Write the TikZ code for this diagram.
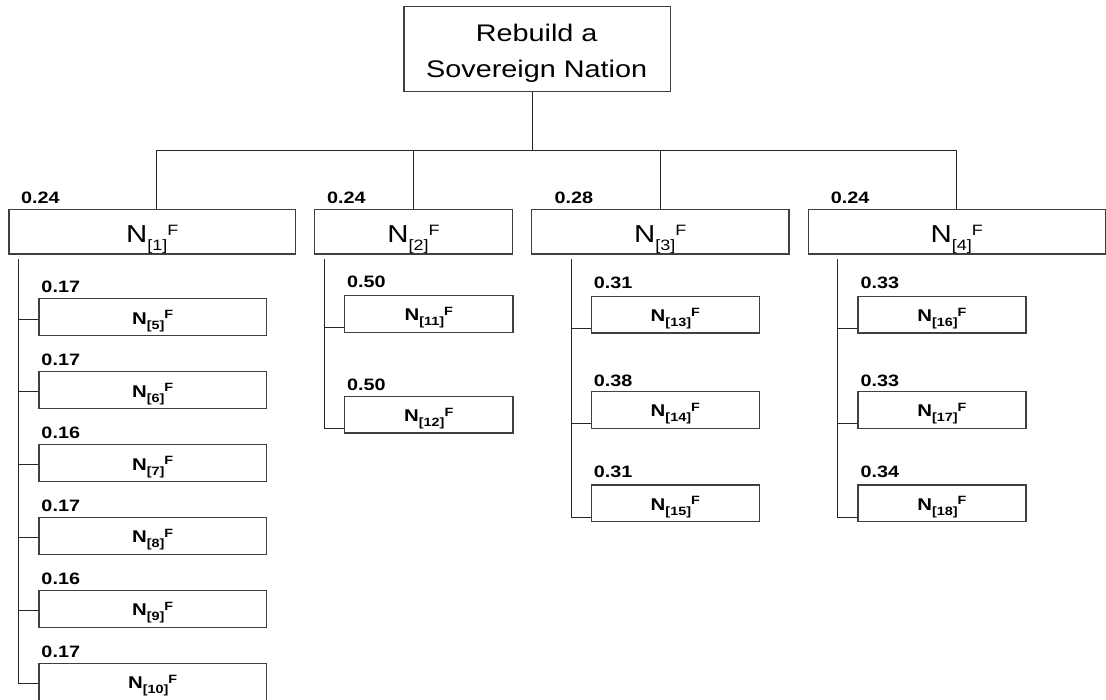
\documentclass[tikz,border=0pt]{standalone}
\usepackage{fontspec}
\setmainfont{Liberation Sans}[FakeStretch=1.2]
\usepackage{graphicx}
\newcommand{\Lone}[1]{N\raisebox{-7.7pt}{\fontsize{15}{15}\selectfont[#1]}\raisebox{7.4pt}{\fontsize{15}{15}\selectfont F}}
\newcommand{\Ltwo}[1]{N\raisebox{-5pt}{\fontsize{12}{12}\selectfont[#1]}\raisebox{5.5pt}{\fontsize{12}{12}\selectfont F}}
\begin{document}
\begin{tikzpicture}[x=1pt,y=-1pt,
  box/.style={draw=black!75, line width=1.2pt, inner sep=0pt, anchor=north west, fill=white},
  lone/.style={box, minimum height=44.2pt, font=\fontsize{24.5}{24.5}\selectfont, text height=21.8pt, text depth=0pt},
  ltwo/.style={box, minimum height=36.7pt, font=\fontsize{17}{17}\selectfont\bfseries, text height=14pt, text depth=0pt},
  wt/.style={anchor=base west, inner sep=0pt, font=\fontsize{16.5}{16.5}\selectfont\bfseries},
  roottext/.style={anchor=base, inner sep=0pt, font=\fontsize{24}{24}\selectfont},
  conn/.style={draw=black!85, line width=1pt}]
\useasboundingbox (0,0) rectangle (1106,700);
\fill[white] (0,0) rectangle (1106,700);

% root
\node[box, minimum width=266.7pt, minimum height=84.7pt] (root) at (403.3,6) {};
\node[roottext] (rootA) at (536.7,41.7) {Rebuild a};
\node[roottext] (rootB) at (536.7,77.3) {Sovereign Nation};

% level 1
\node[lone, minimum width=286.7pt] (n1) at (8.3,209.3) {\Lone{1}};
\node[lone, minimum width=198pt] (n2) at (314,209.3) {\Lone{2}};
\node[lone, minimum width=257.3pt] (n3) at (531,209.3) {\Lone{3}};
\node[lone, minimum width=297pt] (n4) at (807.7,209.3) {\Lone{4}};
\node[wt] (w1) at (21,204) {0.24};
\node[wt] (w2) at (327,204) {0.24};
\node[wt] (w3) at (554.3,204) {0.28};
\node[wt] (w4) at (830.7,204) {0.24};

% bus
\coordinate (b0) at (532,150.5);
\coordinate (d1) at (156.7,150.5);
\coordinate (d2) at (413.3,150.5);
\coordinate (d3) at (660,150.5);
\coordinate (d4) at (956,150.5);
\draw[conn] (root.south -| b0) -- (b0);
\draw[conn] (d1) -- (d4);
\draw[conn] (d1) -- (d1 |- n1.north);
\draw[conn] (d2) -- (d2 |- n2.north);
\draw[conn] (d3) -- (d3 |- n3.north);
\draw[conn] (d4) -- (d4 |- n4.north);

% children of N1
\foreach \i/\k/\w in {5/0/0.17,6/1/0.17,7/2/0.16,8/3/0.17,9/4/0.16,10/5/0.17}{
  \pgfmathsetmacro\t{298.3+72.9*\k}
  \coordinate (c\i) at (18.3,\t+20.8);
  \draw[conn] (c\i) -- (38.3,\t+20.8);
  \node[ltwo, minimum width=227.4pt] (n\i) at (38.3,\t) {\Ltwo{\i}};
  \node[wt] (w\i) at (41.3,\t-5.3) {\w};
}
\coordinate (s1) at (18.3,259.3);
\draw[conn] (s1) -- (c10);

% children of N2
\coordinate (s2) at (324.3,259.3);
\coordinate (c11) at (324.3,327.3);
\coordinate (c12) at (324.3,428.3);
\draw[conn] (s2) -- (c12);
\node[ltwo, minimum width=168.3pt] (n11) at (344,295) {\Ltwo{11}};
\node[ltwo, minimum width=168.3pt] (n12) at (344,395.7) {\Ltwo{12}};
\draw[conn] (c11) -- (c11 -| n11.west);
\draw[conn] (c12) -- (c12 -| n12.west);
\node[wt] (w11) at (347,287.3) {0.50};
\node[wt] (w12) at (347,390.7) {0.50};

% children of N3
\coordinate (s3) at (571,259.3);
\coordinate (c13) at (571,328.3);
\coordinate (c14) at (571,424);
\coordinate (c15) at (571,517.7);
\draw[conn] (s3) -- (c15);
\node[ltwo, minimum width=168pt] (n13) at (590.7,295.7) {\Ltwo{13}};
\node[ltwo, minimum width=168pt] (n14) at (590.7,391) {\Ltwo{14}};
\node[ltwo, minimum width=168pt] (n15) at (590.7,484.3) {\Ltwo{15}};
\draw[conn] (c13) -- (c13 -| n13.west);
\draw[conn] (c14) -- (c14 -| n14.west);
\draw[conn] (c15) -- (c15 -| n15.west);
\node[wt] (w13) at (593.7,288.3) {0.31};
\node[wt] (w14) at (593.7,386.7) {0.38};
\node[wt] (w15) at (593.7,477.7) {0.31};

% children of N4
\coordinate (s4) at (837.7,259.3);
\coordinate (c16) at (837.7,328.3);
\coordinate (c17) at (837.7,424);
\coordinate (c18) at (837.7,517.7);
\draw[conn] (s4) -- (c18);
\node[ltwo, minimum width=168pt] (n16) at (857.3,295.7) {\Ltwo{16}};
\node[ltwo, minimum width=168pt] (n17) at (857.3,391) {\Ltwo{17}};
\node[ltwo, minimum width=168pt] (n18) at (857.3,484.3) {\Ltwo{18}};
\draw[conn] (c16) -- (c16 -| n16.west);
\draw[conn] (c17) -- (c17 -| n17.west);
\draw[conn] (c18) -- (c18 -| n18.west);
\node[wt] (w16) at (860.3,288.3) {0.33};
\node[wt] (w17) at (860.3,386.7) {0.33};
\node[wt] (w18) at (860.3,477.7) {0.34};
\end{tikzpicture}
\end{document}
